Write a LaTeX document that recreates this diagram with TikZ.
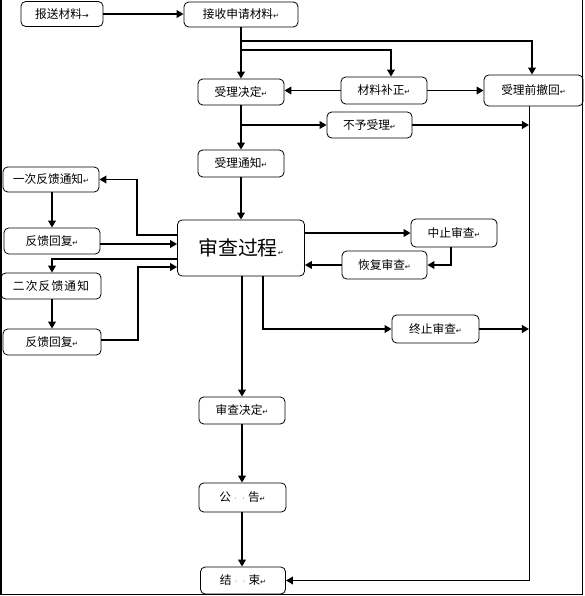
\documentclass[tikz,border=0pt]{standalone}
\usepackage{fontspec}
\usepackage{tikz}
\usetikzlibrary{arrows.meta}
\usetikzlibrary{positioning}
\usetikzlibrary{calc}
\newfontfamily\cjk{Noto Sans CJK SC}
\newfontfamily\cjkwide[LetterSpace=10]{Noto Sans CJK SC}
\newfontfamily\symfont{DejaVu Sans}
\newcommand{\retmark}{{\symfont\fontsize{6}{6}\selectfont ↵}}
\newcommand{\tabmark}{{\symfont\fontsize{7}{7}\selectfont →}}
\newcommand{\gapmark}{\hspace{0.25em}{\symfont\scriptsize\color{gray}·}\hspace{0.25em}}

\begin{document}
\begin{tikzpicture}[x=0.03cm, y=-0.03cm,
  box/.style={draw, line width=0.7pt, rounded corners=4pt, inner sep=1pt, font=\cjk},
  arr/.style={line width=1.6pt, -{Triangle[length=6pt,width=6.5pt]}}]

  \useasboundingbox (0,0) rectangle (584,596);

  %frame
  \draw[line width=1.5pt] (1,0) -- (1,594.5);
  \draw[line width=0.7pt] (1,594.5) -- (582.5,594.5) -- (582.5,0);

  %boxes
  \foreach \x/\y/\w/\h/\name/\txt in {62/14/82/25/send/报送材料\tabmark,
      241/14.5/114/25/recv/接收申请材料\retmark,
      241/92/86/26/accdec/受理决定\retmark,
      384/90.5/86/27/supp/材料补正\retmark,
      533.5/90.5/99/31/withdraw/受理前撤回\retmark,
      369.5/125/85/26/reject/不予受理\retmark,
      241/163.5/86/27/notice/受理通知\retmark,
      51/179.5/96/25/fb1/一次反馈通知\retmark,
      52/241/96/26/rep1/反馈回复\retmark,
      51/286/100/26/fb2/{\cjkwide 二次反馈通知},
      52/342/98/26/rep2/反馈回复\retmark,
      454/233/86/28/suspend/中止审查\retmark,
      384.5/265/85/28/resume/恢复审查\retmark,
      435.5/329/87/28/stop/终止审查\retmark,
      242/410.5/86/27/decide/审查决定\retmark,
      242.5/497.5/87/29/announce/公\gapmark\gapmark{}告\retmark,
      243/580.5/85/27/finish/结\gapmark\gapmark{}束\retmark}{
    \node[box, minimum width=\w*0.03cm, minimum height=\h*0.03cm] (\name) at (\x,\y) {\txt};
  }
  \node[box, minimum width=127*0.03cm, minimum height=56*0.03cm,
        font=\cjk\fontsize{17}{20}\selectfont] (review) at (241,248) {审查过程\retmark};

  %acceptance
  \coordinate (b1) at (241,41);
  \coordinate (b2) at (241,50);
  \coordinate (corner) at (529,580.5);
  \draw[arr] (send.east) -- (send.east -| recv.west);
  \draw[arr] (recv) -- (accdec);
  \draw[arr] (b1) -| ($(withdraw.north)+(-1.5,0)$);
  \draw[arr] (b2) -| ($(supp.north)+(7,0)$);
  \draw[arr] (supp.west) -- (supp.west -| accdec.east);
  \draw[arr] (supp) -- (withdraw);
  \draw[arr] (accdec.south |- reject.west) -- (reject);
  \draw[arr] (reject) -- (reject -| corner);
  \draw[arr] (accdec) -- (notice);
  \draw[arr] (notice) -- (review);

  %feedback
  \draw[arr] ($(review.west)+(0,-13)$) -- ++(-40,0) |- (fb1);
  \draw[arr] (fb1.south -| rep1.north) -- (rep1.north);
  \draw[arr] ($(rep1.east)+(0,3)$) -- ($(rep1.east -| review.west)+(0,3)$);
  \draw[arr] ($(review.west)+(0,11)$) -| (fb2.north -| rep2.north);
  \draw[arr] (fb2.south -| rep2.north) -- (rep2.north);
  \draw[arr] ($(rep2.east)+(0,-2)$) -- ++(37,0) |- ($(review.west)+(0,19)$);

  %suspend and stop
  \draw[arr] (suspend.west -| review.east) -- (suspend.west);
  \draw[arr] ($(suspend.south)+(-3,0)$) |- (resume.east);
  \draw[arr] (resume.west) -- (resume.west -| review.east);
  \draw[arr] ($(review.south)+(22,0)$) |- (stop.west);
  \draw[arr] (stop) -- (stop -| corner);

  %decision
  \draw[arr] (review.south -| decide.north) -- (decide.north);
  \draw[arr] (decide.south) -- (decide.south |- announce.north);
  \draw[arr] (announce.south -| decide.south) -- (decide.south |- finish.north);
  \draw[line width=0.8pt] (withdraw.south -| corner) -- (corner);
  \draw[arr] (corner) -- (finish);

\end{tikzpicture}
\end{document}
